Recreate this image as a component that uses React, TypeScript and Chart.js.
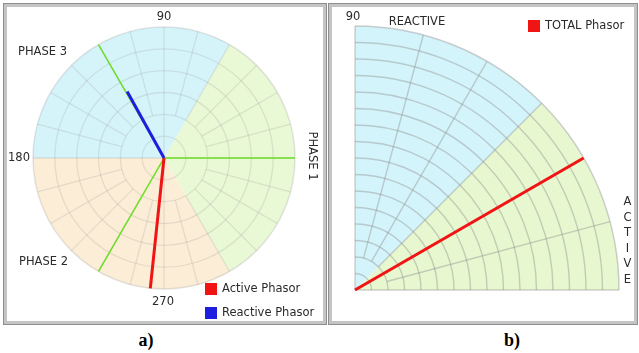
import React, { useEffect, useRef } from 'react';
import { Chart, registerables } from 'chart.js';
Chart.register(...registerables);

const FONT = '"DejaVu Sans", sans-serif';

// ---------- Panel a data ----------
const sectorLabelsA = ['PHASE 1', 'PHASE 3', 'PHASE 2'];
const sectorStartA = [-60, 60, 180];
const sectorEndA = [60, 180, 300];
const referenceAnglesA = [0, 120, 240];
const referenceMagsA = [1, 1, 1];
const phasorLabelsA = ['Active Phasor', 'Reactive Phasor'];
const phasorAnglesA = [264, 119];
const phasorMagsA = [1.0, 0.58];
const angleTicksA = ['90', '180', '270'];
const ringCountA = 6;

// ---------- Panel b data ----------
const sectorLabelsB = ['ACTIVE', 'REACTIVE'];
const sectorStartB = [0, 45];
const sectorEndB = [45, 90];
const phasorLabelsB = ['TOTAL Phasor'];
const phasorAnglesB = [30];
const phasorMagsB = [1.0];
const angleTicksB = ['90'];
const ringCountB = 16;

const spokeStepDeg = 15;

// ---------- styles ----------
const sectorColorsA = ['rgb(233,248,213)', 'rgb(213,244,250)', 'rgb(252,237,214)'];
const sectorColorsB = ['rgb(231,247,207)', 'rgb(211,244,250)'];
const referenceColor = 'rgb(110,222,40)';
const phasorColorsA = ['rgb(240,20,20)', 'rgb(30,30,225)'];
const phasorColorsB = ['rgb(240,20,20)'];
const TEXT = '#2a2a2a';

const rad = (d: number) => (d * Math.PI) / 180;
const toXY = (deg: number, mag: number) => ({
  x: mag * Math.cos(rad(deg)),
  y: mag * Math.sin(rad(deg)),
});

type BgCfg = {
  starts: number[];
  ends: number[];
  colors: string[];
  rings: number;
  minDeg: number;
  maxDeg: number;
  gridColor: string;
  gridWidth: number;
  edgeColor: string;
};

function geometry(chart: any) {
  const x = chart.scales.x;
  const y = chart.scales.y;
  const cx = x.getPixelForValue(0);
  const cy = y.getPixelForValue(0);
  const R = x.getPixelForValue(1) - cx;
  return { cx, cy, R };
}

function backgroundPlugin(cfg: BgCfg) {
  return {
    id: 'polarBackground',
    beforeDatasetsDraw(chart: any) {
      const { ctx } = chart;
      const { cx, cy, R } = geometry(chart);
      ctx.save();
      cfg.starts.forEach((s, i) => {
        ctx.beginPath();
        ctx.moveTo(cx, cy);
        ctx.arc(cx, cy, R, -rad(s), -rad(cfg.ends[i]), true);
        ctx.closePath();
        ctx.fillStyle = cfg.colors[i];
        ctx.fill();
      });
      ctx.strokeStyle = cfg.gridColor;
      ctx.lineWidth = cfg.gridWidth;
      for (let k = 1; k < cfg.rings; k++) {
        ctx.beginPath();
        ctx.arc(cx, cy, (R * k) / cfg.rings, -rad(cfg.minDeg), -rad(cfg.maxDeg), true);
        ctx.stroke();
      }
      for (let d = cfg.minDeg; d <= cfg.maxDeg; d += spokeStepDeg) {
        if (cfg.maxDeg - cfg.minDeg >= 360 && d === cfg.maxDeg) continue;
        const r0 = d % 90 === 0 ? 0 : (R * 2) / cfg.rings;
        ctx.beginPath();
        ctx.moveTo(cx + r0 * Math.cos(rad(d)), cy - r0 * Math.sin(rad(d)));
        ctx.lineTo(cx + R * Math.cos(rad(d)), cy - R * Math.sin(rad(d)));
        ctx.stroke();
      }
      ctx.strokeStyle = cfg.edgeColor;
      ctx.lineWidth = 1.5;
      ctx.beginPath();
      ctx.arc(cx, cy, R, -rad(cfg.minDeg), -rad(cfg.maxDeg), true);
      ctx.stroke();
      ctx.restore();
    },
  };
}

type TextItem = { text: string; dx: number; dy: number; align?: CanvasTextAlign; rotate?: number };
type LegendItem = { text: string; color: string; dx: number; dy: number };

function labelPlugin(texts: TextItem[], legend: LegendItem[]) {
  return {
    id: 'polarLabels',
    afterDraw(chart: any) {
      const { ctx } = chart;
      const { cx, cy } = geometry(chart);
      ctx.save();
      ctx.font = `11.5px ${FONT}`;
      ctx.fillStyle = TEXT;
      ctx.textBaseline = 'middle';
      texts.forEach((t) => {
        ctx.save();
        ctx.translate(cx + t.dx, cy + t.dy);
        if (t.rotate) ctx.rotate(t.rotate);
        ctx.textAlign = t.align || 'center';
        ctx.fillStyle = TEXT;
        ctx.fillText(t.text, 0, 0);
        ctx.restore();
      });
      legend.forEach((l) => {
        ctx.fillStyle = l.color;
        ctx.fillRect(cx + l.dx, cy + l.dy - 6, 12, 12);
        ctx.fillStyle = TEXT;
        ctx.textAlign = 'left';
        ctx.fillText(l.text, cx + l.dx + 17, cy + l.dy);
      });
      ctx.restore();
    },
  };
}

function lineDataset(deg: number, mag: number, color: string, width: number, order: number, label: string) {
  return {
    label,
    data: [{ x: 0, y: 0 }, toXY(deg, mag)],
    showLine: true,
    borderColor: color,
    backgroundColor: color,
    borderWidth: width,
    pointRadius: 0,
    clip: false as any,
    order,
  };
}

function baseOptions(padding: any, xmin: number, ymin: number) {
  return {
    animation: false as const,
    responsive: false,
    layout: { padding },
    scales: {
      x: { type: 'linear' as const, min: xmin, max: 1, display: false },
      y: { type: 'linear' as const, min: ymin, max: 1, display: false },
    },
    plugins: { legend: { display: false }, tooltip: { enabled: false } },
    events: [],
  };
}

function PanelA() {
  const ref = useRef<HTMLCanvasElement>(null);
  useEffect(() => {
    const datasets: any[] = [];
    referenceAnglesA.forEach((a, i) =>
      datasets.push(lineDataset(a, referenceMagsA[i], referenceColor, 1.5, 5, sectorLabelsA[i]))
    );
    phasorAnglesA.forEach((a, i) =>
      datasets.push(lineDataset(a, phasorMagsA[i], phasorColorsA[i], 3, 1 + i, phasorLabelsA[i]))
    );
    const texts: TextItem[] = [
      { text: sectorLabelsA[0], dx: 148, dy: -2, rotate: Math.PI / 2 },
      { text: sectorLabelsA[1], dx: -146, dy: -106, align: 'left' },
      { text: sectorLabelsA[2], dx: -145, dy: 104, align: 'left' },
      { text: angleTicksA[0], dx: 0, dy: -141 },
      { text: angleTicksA[1], dx: -145, dy: 0 },
      { text: angleTicksA[2], dx: -1, dy: 144 },
    ];
    const legend: LegendItem[] = phasorLabelsA.map((t, i) => ({
      text: t,
      color: phasorColorsA[i],
      dx: 41,
      dy: 131 + i * 24,
    }));
    const chart = new Chart(ref.current!, {
      type: 'scatter',
      data: { datasets },
      options: baseOptions({ left: 26, top: 20, right: 28, bottom: 33 }, -1, -1) as any,
      plugins: [
        backgroundPlugin({
          starts: sectorStartA,
          ends: sectorEndA,
          colors: sectorColorsA,
          rings: ringCountA,
          minDeg: 0,
          maxDeg: 360,
          gridColor: 'rgba(150,150,150,0.22)',
          gridWidth: 1.3,
          edgeColor: 'rgba(150,150,150,0.25)',
        }),
        labelPlugin(texts, legend),
      ],
    });
    return () => chart.destroy();
  }, []);
  return <canvas ref={ref} width={316} height={315} style={{ position: 'absolute', left: 7, top: 7 }} />;
}

function PanelB() {
  const ref = useRef<HTMLCanvasElement>(null);
  useEffect(() => {
    const datasets: any[] = phasorAnglesB.map((a, i) =>
      lineDataset(a, phasorMagsB[i], phasorColorsB[i], 3, 1, phasorLabelsB[i])
    );
    const texts: TextItem[] = [
      { text: angleTicksB[0], dx: -2, dy: -273 },
      { text: sectorLabelsB[1], dx: 62, dy: -268 },
      ...sectorLabelsB[0].split('').map((ch, i) => ({ text: ch, dx: 272.5, dy: -88 + i * 15.6 })),
    ];
    const legend: LegendItem[] = phasorLabelsB.map((t, i) => ({
      text: t,
      color: phasorColorsB[i],
      dx: 173,
      dy: -264 + i * 24,
    }));
    const chart = new Chart(ref.current!, {
      type: 'scatter',
      data: { datasets },
      options: baseOptions({ left: 23, top: 19, right: 15, bottom: 31 }, 0, 0) as any,
      plugins: [
        backgroundPlugin({
          starts: sectorStartB,
          ends: sectorEndB,
          colors: sectorColorsB,
          rings: ringCountB,
          minDeg: 0,
          maxDeg: 90,
          gridColor: 'rgba(140,140,140,0.4)',
          gridWidth: 1.4,
          edgeColor: 'rgba(150,150,150,0.45)',
        }),
        labelPlugin(texts, legend),
      ],
    });
    return () => chart.destroy();
  }, []);
  return <canvas ref={ref} width={302} height={314} style={{ position: 'absolute', left: 332, top: 7 }} />;
}

const frameStyle = (left: number, width: number): React.CSSProperties => ({
  position: 'absolute',
  left,
  top: 3,
  width,
  height: 322,
  boxSizing: 'border-box',
  border: '1px solid #8e8e8e',
  boxShadow: 'inset 0 0 0 3px #c4c4c4',
  background: '#fff',
});

const captionStyle = (left: number): React.CSSProperties => ({
  position: 'absolute',
  left,
  top: 328,
  width: 40,
  textAlign: 'center',
  font: 'bold 18px "Liberation Serif", "Times New Roman", serif',
  color: '#000',
  lineHeight: '24px',
});

export default function App() {
  return (
    <div
      style={{
        position: 'absolute',
        left: 0,
        top: 0,
        width: 639,
        height: 353,
        background: '#fff',
        overflow: 'hidden',
      }}
    >
      <div style={frameStyle(3, 324)} />
      <div style={frameStyle(328, 310)} />
      <PanelA />
      <PanelB />
      <div style={captionStyle(126)}>a)</div>
      <div style={captionStyle(492)}>b)</div>
    </div>
  );
}
